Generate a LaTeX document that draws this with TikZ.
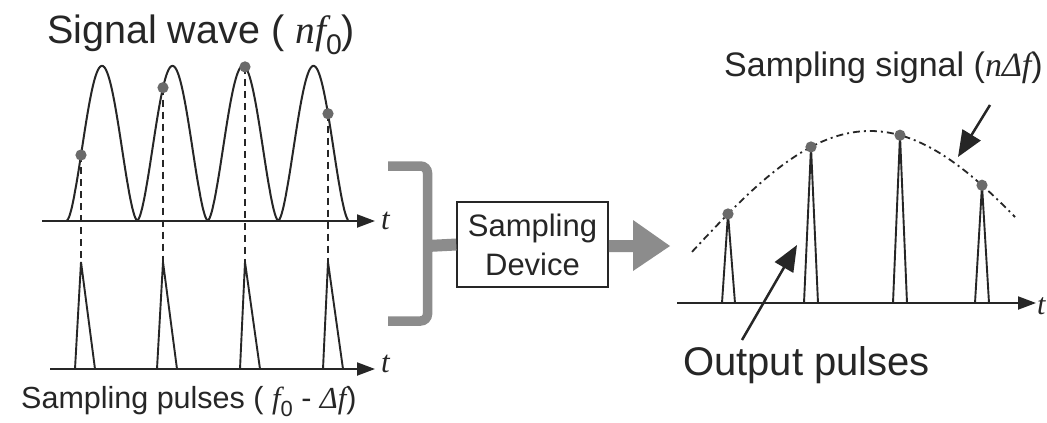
\documentclass[tikz,border=0pt]{standalone}
\usepackage{fontspec}
\usepackage{graphicx}
\setmainfont{Liberation Sans}
\newfontfamily\tms{Liberation Serif}
\usetikzlibrary{arrows.meta}
\definecolor{ink}{HTML}{262626}
\definecolor{dotc}{HTML}{6A6A6A}
\definecolor{brk}{HTML}{8C8C8C}
\newcommand{\mi}[1]{{\tms\itshape #1}}
\newcommand{\lowsub}[1]{\raisebox{-0.28em}{\scalebox{0.72}{#1}}}
\begin{document}
\begin{tikzpicture}[x=1pt,y=-1pt,
  declare function={wv(\x)=221-155*pow((1+cos(5.10638*(\x-102)))/2+0.001,0.82);
                    sg(\x)=131+123*(1-cos(0.5*(\x-870)));},
  line/.style={draw=ink,line width=2pt},
  axis/.style={draw=ink,line width=2pt,-{Triangle[length=18pt,width=13pt]}},
  pulse/.style={draw=ink,line width=1.9pt,line join=miter},
  guide/.style={draw=ink,line width=1.9pt,dash pattern=on 7pt off 5pt},
  dot/.style={fill=dotc},
  lbl/.style={text=ink,anchor=base west,inner sep=0pt},
  bigarrow/.style={draw=ink,line width=2.5pt,-{Triangle[length=26pt,width=21pt]}}
]
\fill[white] (0,0) rectangle (1047,423);
\useasboundingbox (0,0) rectangle (1047,423);

% ---------- left: signal wave ----------
\node[lbl,font=\fontsize{39.5}{45}\selectfont] (sw) at (47,43) {Signal wave ( \mi{nf}\lowsub{0})};
\coordinate (ax1s) at (42,221);
\coordinate (ax1e) at (375,221);
\draw[axis] (ax1s) -- (ax1e);
\node[lbl,font=\fontsize{31}{34}\selectfont\tms\itshape] (t1) at (381,229) {t};
\draw[line] plot[domain=67:348,samples=281] ({\x},{wv(\x)});

% sample points on the wave
\foreach \i/\xx in {1/81,2/163,3/245,4/328}{
  \coordinate (d\i) at (\xx,{wv(\xx)});
}
% sampling pulses
\coordinate (ax2s) at (50,369);
\coordinate (ax2e) at (375,369);
\foreach \i/\l/\a/\r in {1/75/81/95,2/157/163/177,3/240/245/260,4/323/328/343}{
  \coordinate (pl\i) at (\l,369);
  \coordinate (pa\i) at (\a,262);
  \coordinate (pr\i) at (\r,369);
  \draw[pulse] (pl\i) -- (pa\i) -- (pr\i);
}
\foreach \i in {1,...,4}{
  \draw[guide] (d\i) -- (pa\i);
  \fill[dot] (d\i) circle (5.6pt);
}
\draw[axis] (ax2s) -- (ax2e);
\node[lbl,font=\fontsize{31}{34}\selectfont\tms\itshape] (t2) at (381,372) {t};
\node[lbl,font=\fontsize{30.5}{36}\selectfont] (sp) at (21,408) {Sampling pulses ( \mi{f}\lowsub{0}\ - \mi{Δf})};

% ---------- middle: bracket, device, arrow ----------
\coordinate (bt) at (388,166);
\coordinate (bb) at (388,321);
\coordinate (bm) at (427.5,246);
\draw[brk,line width=9.5pt,rounded corners=7pt] (bt) -- (427.5,166) -- (427.5,321) -- (bb);
\node[draw=ink,line width=1.5pt,minimum width=151pt,minimum height=85pt,inner sep=0pt,
      align=center,text=ink,font=\fontsize{31}{39}\selectfont] (dev) at (532.5,244.5) {Sampling\\Device};
\draw[brk,line width=12pt] (bm) -- (dev.west);
\coordinate (ah) at (670,246);
\fill[brk] (dev.east |- 0,240) -- (633,240) -- (633,220) -- (ah) -- (633,271) -- (633,252) -- (dev.east |- 0,252) -- cycle;

% ---------- right: output ----------
\coordinate (ax3s) at (677,303);
\coordinate (ax3e) at (1036,303);
\draw[axis] (ax3s) -- (ax3e);
\node[lbl,font=\fontsize{30}{34}\selectfont\tms\itshape] (t3) at (1037,314) {t};
\foreach \i/\l/\a/\r in {1/722/728/735,2/804/811/818,3/893/900/907,4/975/982/989}{
  \coordinate (ql\i) at (\l,303);
  \coordinate (e\i) at (\a,{sg(\a)});
  \coordinate (qr\i) at (\r,303);
  \draw[pulse] (ql\i) -- (e\i) -- (qr\i);
}
\draw[draw=ink,line width=1.8pt,dash pattern=on 7pt off 4pt on 2pt off 4pt]
  plot[domain=692:1015,samples=120] ({\x},{sg(\x)});
\foreach \i in {1,...,4}{ \fill[dot] (e\i) circle (5.6pt); }

\node[lbl,font=\fontsize{34}{40}\selectfont] (ss) at (724,76) {Sampling signal (\mi{nΔf})};
\coordinate (ssa) at (990,105);
\coordinate (ssb) at (958,157);
\draw[bigarrow] (ssa) -- (ssb);

\node[lbl,font=\fontsize{40}{46}\selectfont] (op) at (683,375) {Output pulses};
\coordinate (opa) at (742,340);
\coordinate (opb) at (797,245);
\draw[bigarrow] (opa) -- (opb);
\end{tikzpicture}
\end{document}
